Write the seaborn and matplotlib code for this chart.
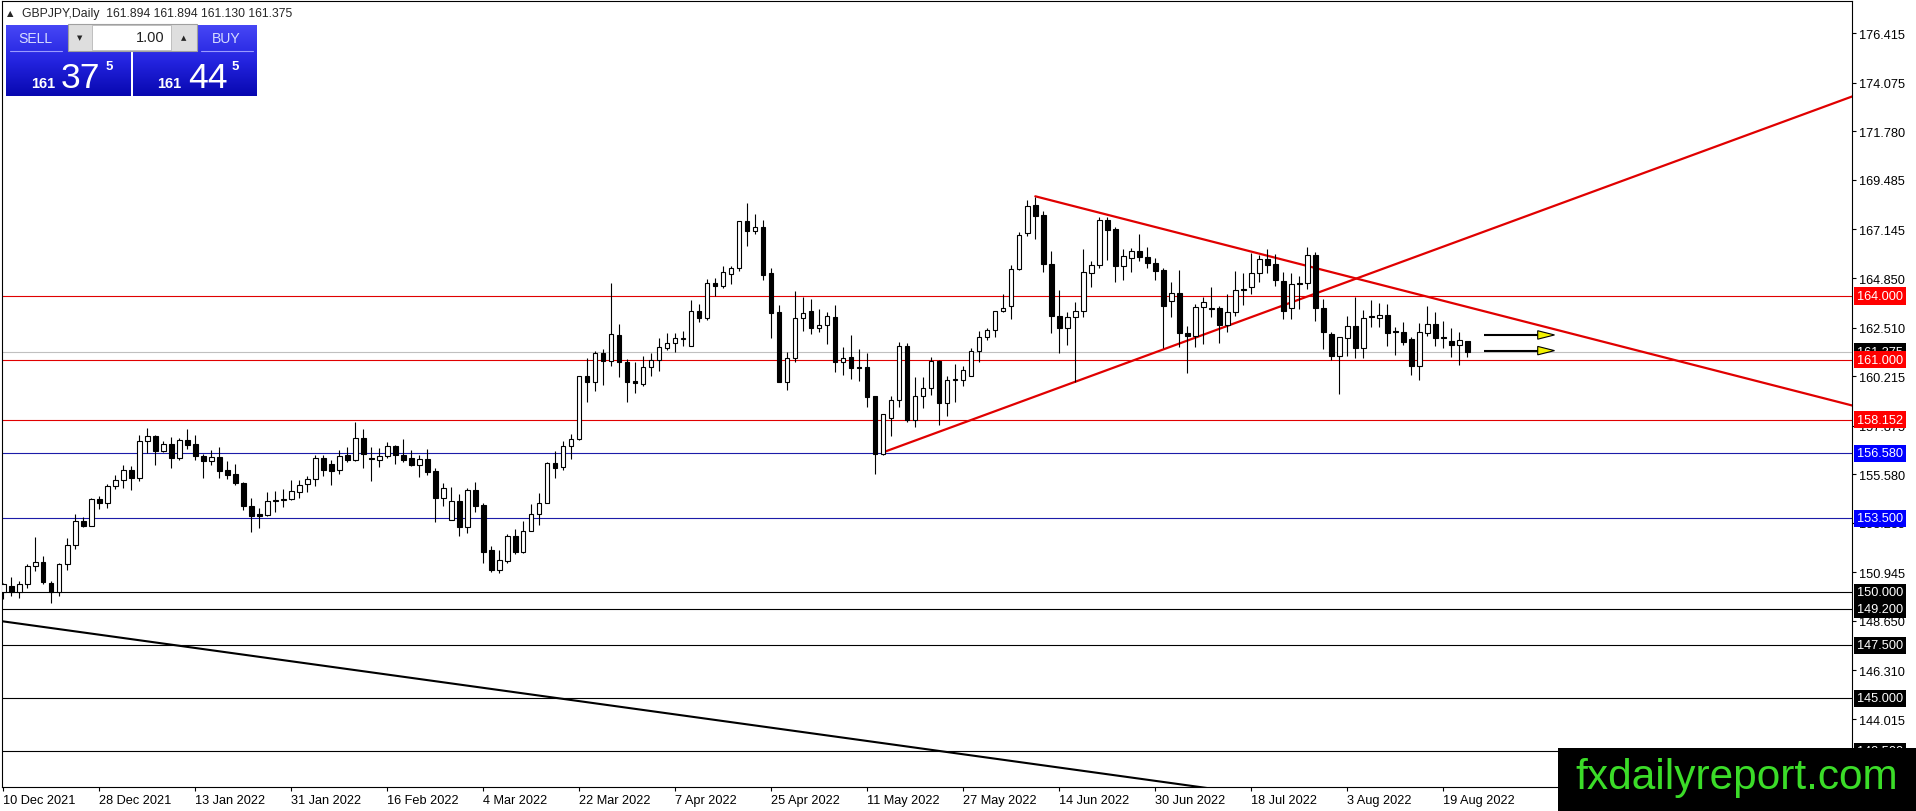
import numpy as np
import pandas as pd
import matplotlib
matplotlib.use("Agg")
import matplotlib.pyplot as plt
import matplotlib.transforms as mtransforms
from matplotlib import font_manager
from matplotlib.colors import LinearSegmentedColormap
from matplotlib.patches import Rectangle
import seaborn as sns

# GBPJPY daily candles, 10 Dec 2021 -> 24 Aug 2022
opens = [150.03, 150.32, 150.03, 150.38, 151.23, 151.42, 150.46, 150.03, 151.34, 152.25,
         153.35, 153.15, 154.41, 154.24, 155.01, 155.31, 155.78, 155.42, 157.14, 157.37,
         156.69, 156.99, 156.36, 157.18, 156.99, 156.46, 156.19, 156.38, 155.78, 155.58,
         155.17, 154.10, 153.70, 153.67, 154.30, 154.35, 154.40, 154.76, 155.10, 155.36,
         156.33, 156.05, 155.77, 156.49, 156.27, 157.28, 156.33, 156.27, 156.46, 156.90,
         156.49, 156.33, 156.03, 156.28, 155.73, 154.47, 153.40, 154.30, 153.07, 154.84,
         154.13, 151.98, 151.07, 151.50, 152.66, 151.92, 152.92, 153.69, 154.21, 156.10,
         155.91, 156.93, 157.23, 160.21, 159.92, 161.29, 160.91, 162.16, 160.90, 159.97,
         159.83, 160.63, 160.99, 161.56, 161.76, 161.97, 161.65, 163.31, 162.94, 164.63,
         164.49, 165.02, 165.30, 167.53, 167.09, 167.24, 165.07, 163.23, 159.95, 161.05,
         162.94, 163.27, 162.50, 162.63, 163.00, 160.87, 161.10, 160.63, 160.63, 159.26,
         156.54, 158.25, 159.10, 161.62, 158.16, 159.29, 159.64, 160.95, 158.93, 160.05,
         160.05, 160.24, 161.39, 162.05, 162.41, 163.28, 163.51, 165.26, 166.96, 168.31,
         167.83, 165.50, 163.07, 162.47, 162.99, 163.31, 165.08, 165.48, 167.61, 167.16,
         165.40, 165.78, 166.11, 165.83, 165.54, 165.23, 163.78, 164.14, 162.25, 162.10,
         163.46, 163.43, 163.43, 162.65, 163.23, 164.33, 164.44, 165.07, 165.75, 165.51,
         164.69, 163.42, 164.61, 164.60, 165.94, 163.43, 162.20, 161.18, 162.03, 162.58,
         161.54, 163.05, 162.98, 163.09, 162.33, 162.28, 161.97, 160.68, 162.26, 162.66,
         162.06, 161.86, 161.70, 161.894]
highs = [150.45, 150.71, 150.55, 151.34, 152.63, 151.70, 150.55, 151.37, 152.55, 153.69,
         153.54, 154.46, 154.57, 155.12, 155.54, 156.02, 155.99, 157.45, 157.76, 157.45,
         157.17, 157.36, 157.29, 157.72, 157.44, 156.54, 156.73, 156.85, 156.20, 156.05,
         155.20, 154.44, 153.97, 154.73, 154.80, 154.90, 155.31, 155.31, 155.51, 156.49,
         156.49, 156.25, 156.73, 156.85, 158.06, 157.72, 156.85, 156.80, 157.12, 156.96,
         157.24, 156.73, 156.49, 156.77, 155.86, 155.17, 154.96, 154.65, 154.92, 155.23,
         154.22, 152.21, 152.00, 152.76, 152.99, 153.37, 154.16, 154.69, 156.17, 156.69,
         157.17, 157.50, 160.24, 161.05, 161.39, 161.50, 164.60, 162.68, 161.02, 160.87,
         161.15, 161.30, 162.00, 162.25, 162.25, 162.36, 163.81, 163.62, 164.80, 164.83,
         165.40, 165.43, 167.56, 168.38, 167.87, 167.59, 165.32, 163.57, 161.34, 164.22,
         163.97, 163.86, 163.39, 163.23, 163.57, 161.57, 162.16, 161.50, 161.29, 159.29,
         158.42, 159.29, 161.81, 161.78, 160.16, 160.16, 161.10, 160.99, 160.24, 160.79,
         160.71, 161.53, 162.36, 162.47, 163.31, 164.10, 165.46, 167.04, 168.53, 168.69,
         168.03, 166.12, 164.28, 163.26, 163.73, 166.22, 165.67, 167.72, 167.72, 167.24,
         166.22, 166.25, 166.93, 166.30, 165.78, 165.31, 164.68, 165.24, 162.60, 163.62,
         163.94, 164.41, 163.54, 164.10, 165.18, 165.07, 166.02, 165.94, 166.22, 165.98,
         165.12, 165.07, 164.93, 166.30, 166.09, 163.86, 162.28, 162.05, 163.07, 163.97,
         163.35, 163.81, 163.68, 163.62, 162.52, 162.76, 162.05, 162.71, 163.51, 163.23,
         162.80, 162.47, 162.28, 161.894]
lows = [149.70, 149.81, 149.72, 150.20, 151.03, 150.40, 149.48, 149.85, 151.07, 152.05,
        153.09, 153.12, 153.94, 154.00, 154.88, 154.91, 154.85, 155.25, 156.59, 156.03,
        156.62, 155.88, 156.27, 156.77, 156.27, 155.42, 156.03, 155.42, 155.36, 155.09,
        153.89, 152.87, 153.06, 153.62, 153.78, 154.02, 154.36, 154.44, 154.76, 155.01,
        155.51, 155.07, 155.59, 156.17, 156.21, 155.86, 155.28, 155.94, 156.33, 156.05,
        156.17, 155.98, 155.46, 155.54, 153.34, 154.10, 153.40, 152.65, 152.79, 153.81,
        151.38, 150.98, 150.93, 151.39, 151.83, 151.86, 152.90, 153.20, 154.21, 155.40,
        155.80, 156.30, 157.20, 159.00, 159.53, 159.80, 160.71, 160.19, 159.00, 159.40,
        159.76, 160.24, 160.47, 161.46, 161.37, 161.65, 161.62, 162.76, 162.88, 164.02,
        164.36, 164.57, 165.20, 166.38, 166.93, 164.77, 162.03, 159.92, 159.56, 160.87,
        162.36, 162.20, 162.32, 161.73, 160.43, 160.28, 160.10, 160.00, 158.77, 155.59,
        156.48, 157.40, 158.74, 158.03, 157.83, 158.69, 159.32, 157.92, 158.35, 158.98,
        159.76, 160.24, 160.90, 161.94, 162.05, 163.26, 162.91, 165.23, 166.85, 166.69,
        165.12, 162.24, 161.29, 161.70, 159.95, 163.02, 164.44, 165.32, 165.70, 164.64,
        164.77, 165.12, 165.67, 165.32, 164.77, 161.53, 162.99, 161.58, 160.35, 161.58,
        161.73, 162.99, 161.78, 162.31, 163.04, 163.59, 164.09, 164.68, 165.09, 164.49,
        162.91, 162.91, 163.39, 164.33, 162.83, 161.50, 160.99, 159.37, 161.18, 161.07,
        161.07, 162.52, 162.55, 161.65, 161.23, 161.68, 160.27, 160.05, 162.13, 161.65,
        161.53, 161.13, 160.76, 161.130]
closes = [150.39, 150.03, 150.38, 151.23, 151.42, 150.47, 150.03, 151.34, 152.25, 153.35,
          153.12, 154.41, 154.24, 155.01, 155.31, 155.78, 155.42, 157.14, 157.37, 156.69,
          156.99, 156.36, 157.18, 156.98, 156.46, 156.19, 156.38, 155.75, 155.55, 155.15,
          154.07, 153.62, 153.62, 154.30, 154.35, 154.40, 154.77, 155.09, 155.36, 156.33,
          155.80, 155.75, 156.43, 156.27, 157.28, 156.54, 156.28, 156.46, 156.90, 156.49,
          156.27, 156.03, 156.28, 155.70, 154.47, 154.92, 154.30, 153.07, 154.84, 154.10,
          151.92, 151.06, 151.51, 152.66, 151.92, 152.92, 153.69, 154.21, 156.10, 155.89,
          156.93, 157.23, 160.21, 159.92, 161.29, 160.91, 162.19, 160.87, 159.92, 159.87,
          160.63, 160.99, 161.57, 161.76, 162.00, 162.00, 163.31, 162.94, 164.63, 164.49,
          165.12, 165.30, 167.53, 167.09, 167.24, 165.00, 163.20, 159.95, 161.05, 162.94,
          163.18, 162.50, 162.63, 163.05, 160.87, 161.05, 160.60, 160.60, 159.21, 156.54,
          158.41, 159.10, 161.62, 158.16, 159.29, 159.67, 160.95, 158.93, 160.05, 160.08,
          160.52, 161.39, 162.05, 162.41, 163.28, 163.42, 165.26, 166.90, 168.27, 167.80,
          165.50, 163.07, 162.47, 163.02, 163.31, 165.12, 165.48, 167.61, 167.13, 165.40,
          165.90, 166.11, 165.83, 165.54, 165.20, 163.54, 164.14, 162.24, 162.10, 163.46,
          163.70, 163.38, 162.65, 163.23, 164.28, 164.28, 165.07, 165.75, 165.48, 164.77,
          163.30, 164.55, 164.55, 165.94, 163.42, 162.31, 161.18, 162.05, 162.58, 161.54,
          162.94, 163.00, 163.09, 162.25, 162.28, 161.84, 160.68, 162.28, 162.66, 162.03,
          162.00, 161.70, 161.90, 161.375]

date_labels = ["10 Dec 2021", "28 Dec 2021", "13 Jan 2022", "31 Jan 2022", "16 Feb 2022",
               "4 Mar 2022", "22 Mar 2022", "7 Apr 2022", "25 Apr 2022", "11 May 2022",
               "27 May 2022", "14 Jun 2022", "30 Jun 2022", "18 Jul 2022", "3 Aug 2022",
               "19 Aug 2022"]
price_ticks = [176.415, 174.075, 171.780, 169.485, 167.145, 164.850, 162.510, 160.215,
               157.875, 155.580, 153.285, 150.945, 148.650, 146.310, 144.015, 141.720]

# horizontal levels drawn on the chart
level_prices = [164.000, 161.000, 158.152, 156.580, 153.500, 150.000, 149.200, 147.500, 145.000, 142.500]
level_kinds = ["red", "red", "red", "blue", "blue", "black", "black", "black", "black", "black"]
last_price = 161.375
header = "GBPJPY,Daily  161.894 161.894 161.130 161.375"

# trend lines (bar index, price)
rising_x, rising_y = [110, 231.5], [156.62, 173.48]
falling_x, falling_y = [129, 231.5], [168.71, 158.79]
long_x, long_y = [-5, 160], [148.89, 140.26]

# the two small arrows at the right of the last candle
arrow_prices = [162.16, 161.42]
arrow_start, arrow_base, arrow_tip = 185.1, 191.8, 193.9

W, H = 1916, 812
BAR_PX = 8.0        # pixels per bar
BAR0_PX = 3.3       # x pixel of the first candle
PX_PER_UNIT = 21.17  # pixels per 1.000 of price
Y164_PX = 297.0      # y pixel of 164.000

sns.set_theme(style="white")
names = {f.name for f in font_manager.fontManager.ttflist}
narrow = "Liberation Sans Narrow" if "Liberation Sans Narrow" in names else "Liberation Sans"
narrow_scale = 1.0 if narrow == "Liberation Sans Narrow" else 0.88
plt.rcParams["font.family"] = ["Liberation Sans", "DejaVu Sans"]

df = pd.DataFrame({"open": opens, "high": highs, "low": lows, "close": closes})
df["bar"] = np.arange(len(df))
df["up"] = df["close"] >= df["open"]
df["body_lo"] = df[["open", "close"]].min(axis=1)
df["body_h"] = (df["close"] - df["open"]).abs().clip(lower=0.04)

fig = plt.figure(figsize=(W / 100, H / 100), dpi=100)
fig.patch.set_facecolor("white")
ax_left, ax_right, ax_top, ax_bottom = 2, 1852, 2, 788
ax = fig.add_axes([ax_left / W, (H - ax_bottom) / H, (ax_right - ax_left) / W, (ax_bottom - ax_top) / H])
ax.set_facecolor("white")

xmin = (ax_left - BAR0_PX) / BAR_PX
xmax = (ax_right - BAR0_PX) / BAR_PX
ytop = 164 + (Y164_PX - ax_top) / PX_PER_UNIT
ybot = 164 - (ax_bottom - Y164_PX) / PX_PER_UNIT

line_colors = {"red": "#e00000", "blue": "#1c1ca8", "black": "black"}
box_colors = {"red": "#ff0000", "blue": "#0000ff", "black": "black"}

# levels behind the candles
ax.axhline(last_price, color="#c0c0c0", lw=0.8, zorder=1)
for p, k in zip(level_prices, level_kinds):
    ax.axhline(p, color=line_colors[k], lw=0.8, zorder=2)

# trend lines
sns.lineplot(x=rising_x, y=rising_y, color="#e00000", lw=1.6, ax=ax, zorder=2.5)
sns.lineplot(x=falling_x, y=falling_y, color="#e00000", lw=1.6, ax=ax, zorder=2.5)
sns.lineplot(x=long_x, y=long_y, color="black", lw=1.5, ax=ax, zorder=2.5)

# candles
ax.vlines(df["bar"], df["low"], df["high"], color="black", lw=0.8, zorder=3)
ax.bar(df["bar"], df["body_h"], bottom=df["body_lo"], width=0.55,
       color=np.where(df["up"], "white", "black"), edgecolor="black", linewidth=0.8, zorder=4)

# arrows
for p in arrow_prices:
    ax.plot([arrow_start, arrow_base], [p, p], color="black", lw=1.5, zorder=5, solid_capstyle="butt")
    ax.fill([arrow_base, arrow_tip, arrow_base], [p + 0.2, p, p - 0.2],
            facecolor="#f2f200", edgecolor="black", lw=0.8, zorder=6)

ax.set_xlim(xmin, xmax)
ax.set_ylim(ybot, ytop)

# axes styling
for s in ax.spines.values():
    s.set_color("black")
    s.set_linewidth(0.8)
ax.yaxis.tick_right()
ax.set_yticks(price_ticks)
ax.set_yticklabels([f"{t:.3f}" for t in price_ticks])
ax.tick_params(axis="y", which="both", right=True, left=False, direction="out", length=3,
               width=0.8, pad=2, labelsize=9.2, colors="black")
ax.set_xticks([12 * k for k in range(len(date_labels))])
ax.set_xticklabels(date_labels)
ax.tick_params(axis="x", bottom=True, direction="out", length=3, width=0.8, pad=1.8,
               labelsize=9.2, colors="black")
for lbl in ax.get_xticklabels():
    lbl.set_horizontalalignment("left")
ax.set_xlabel("")
ax.set_ylabel("")
ax.grid(False)

# price boxes on the right scale
trans = mtransforms.blended_transform_factory(ax.transAxes, ax.transData)
xbox = 1.0 + 5 / (ax_right - ax_left)
ax.text(xbox, last_price, f"{last_price:.3f}", transform=trans, ha="left", va="center",
        color="white", fontsize=9.2, clip_on=False, zorder=7,
        bbox=dict(boxstyle="square,pad=0.2", fc="black", ec="none"))
for p, k in zip(level_prices, level_kinds):
    ax.text(xbox, p, f"{p:.3f}", transform=trans, ha="left", va="center",
            color="white", fontsize=9.2, clip_on=False, zorder=8,
            bbox=dict(boxstyle="square,pad=0.2", fc=box_colors[k], ec="none"))

# overlay in pixel coordinates: header, trade panel, watermark
ui = fig.add_axes([0, 0, 1, 1], zorder=10)
ui.set_autoscale_on(False)
ui.set_xlim(0, W)
ui.set_ylim(H, 0)
ui.axis("off")
ui.patch.set_alpha(0)

ui.text(7, 13.5, "▲", fontsize=6, va="center", ha="left", family=["DejaVu Sans"])
ui.text(22, 13.5, header, fontsize=8.8, va="center", ha="left")

blue_cmap = LinearSegmentedColormap.from_list("panel", ["#4646f5", "#2424e0", "#0808b0"])
grad = np.linspace(0, 1, 64).reshape(-1, 1)
for x0, x1 in [(6.3, 130.7), (133.3, 256.7)]:
    ui.imshow(grad, cmap=blue_cmap, extent=[x0, x1, 96.7, 25.7], aspect="auto", zorder=1,
              interpolation="bilinear")
for x0, x1 in [(10, 62), (201, 253)]:
    ui.plot([x0, x1], [51.7, 51.7], color="#9a9aff", lw=0.8, zorder=2)

ui.add_patch(Rectangle((67.7, 25), 129.6, 26.7, fc="#dedede", ec="#a0a0a0", lw=0.8, zorder=3))
ui.add_patch(Rectangle((92.3, 25.6), 78.4, 25.5, fc="white", ec="#b8b8b8", lw=0.6, zorder=4))
ui.text(80, 38.5, "▼", fontsize=5, ha="center", va="center", family=["DejaVu Sans"], zorder=5)
ui.text(183.5, 38.5, "▲", fontsize=5, ha="center", va="center", family=["DejaVu Sans"], zorder=5)
ui.text(165, 38.5, "1.00", fontsize=10.5, ha="right", va="center", color="#202020", zorder=5)

ui.text(35.5, 39, "SELL", fontsize=11 * narrow_scale + 0.4, ha="center", va="center",
        color="#d6dcff", family=[narrow], zorder=5)
ui.text(226.5, 39, "BUY", fontsize=11 * narrow_scale + 0.4, ha="center", va="center",
        color="#d6dcff", family=[narrow], zorder=5)

big = 29 * narrow_scale
for x_small, x_big, x_sup, small, digits in [(30.7, 61, 106, "161", "37"), (156.7, 188, 232, "161", "44")]:
    ui.text(x_small, 88.3, small, fontsize=12 * narrow_scale, fontweight="bold", ha="left",
            va="baseline", color="white", family=[narrow], zorder=5)
    ui.text(x_big, 88.3, digits, fontsize=big, ha="left", va="baseline", color="white",
            family=[narrow], zorder=5)
    ui.text(x_sup, 70, "5", fontsize=9.5, fontweight="bold", ha="left", va="baseline",
            color="white", family=[narrow], zorder=5)

ui.add_patch(Rectangle((1558, 748.5), W - 1558, H - 748.5, fc="black", ec="none", zorder=6))
ui.text(1575, 789, "fxdailyreport.com", fontsize=30.5, color="#3bdc28", ha="left",
        va="baseline", family=["Liberation Sans"], zorder=7)

fig.savefig("out.png", dpi=100)
